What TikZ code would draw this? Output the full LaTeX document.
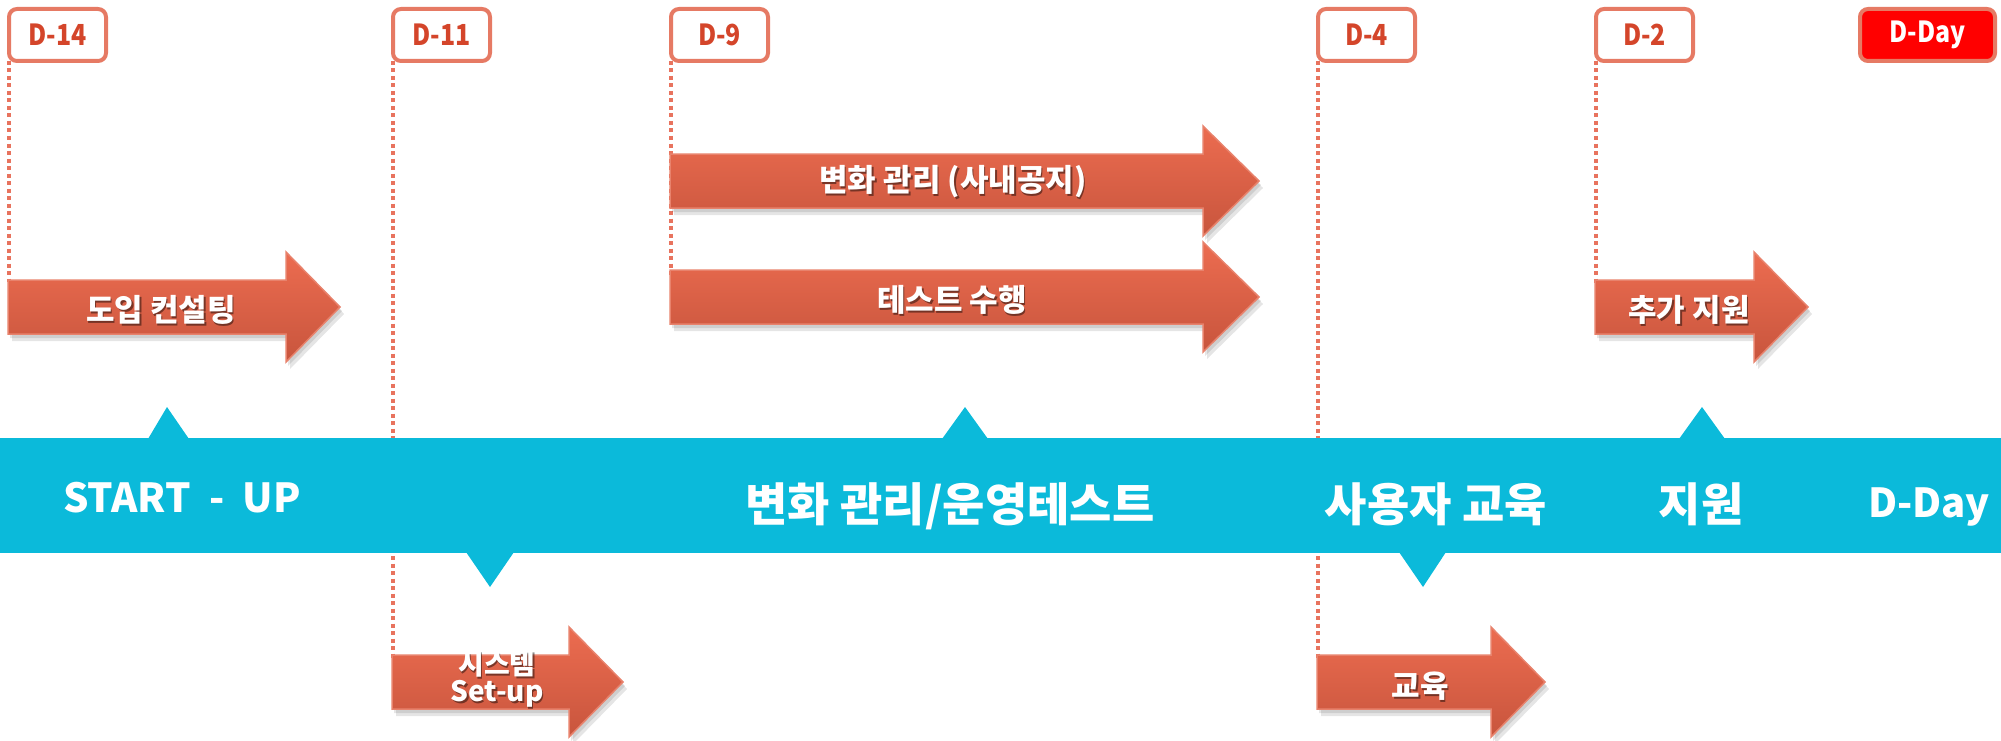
\documentclass[tikz,border=0pt]{standalone}
\usepackage{fontspec}
\usepackage{graphicx}
\setmainfont{Noto Sans CJK KR}
\definecolor{band}{HTML}{0BBADA}
\definecolor{boxline}{HTML}{E67A64}
\definecolor{boxtxt}{HTML}{D4452A}
\definecolor{dday}{HTML}{FF0000}
\definecolor{arrtop}{HTML}{EC6C50}
\definecolor{arrbot}{HTML}{C8553D}
\definecolor{arredge}{HTML}{E8826C}
\definecolor{dots}{HTML}{E8735E}
\tikzset{
  daybox/.style={draw=boxline, line width=4pt, rounded corners=8pt, fill=white,
    minimum width=97pt, minimum height=52pt, inner sep=0pt, outer sep=0pt,
    text=boxtxt, font=\bfseries\fontsize{29}{30}\selectfont},
  dotline/.style={draw=dots, line width=3.5pt, dash pattern=on 4pt off 3.5pt},
  arrowbody/.style={top color=arrtop, bottom color=arrbot, draw=arredge, line width=1.5pt, line join=miter},
  arrowshade/.style={fill=black, opacity=0.10},
  arrtext/.style={text=white, font=\bfseries\fontsize{31}{32}\selectfont, inner sep=0pt},
  arrtextsh/.style={text=black, opacity=0.45, font=\bfseries\fontsize{31}{32}\selectfont, inner sep=0pt},
  systext/.style={text=white, font=\bfseries\fontsize{28}{30}\selectfont, inner sep=0pt, anchor=base},
  systextsh/.style={text=black, opacity=0.45, font=\bfseries\fontsize{28}{30}\selectfont, inner sep=0pt, anchor=base},
  bandtext/.style={text=white, font=\bfseries\fontsize{46}{50}\selectfont, inner sep=0pt, anchor=base},
  bandlatin/.style={text=white, font=\bfseries\fontsize{40}{46}\selectfont, inner sep=0pt, anchor=base},
}
\newcommand\cond[1]{\scalebox{0.86}[1]{#1}}
% #1 x0, #2 head base x, #3 tip x, #4 centre y
\newcommand\orarrow[4]{%
  \fill[arrowshade] ({#1+2},{#4-27+4}) -- ({#2+2},{#4-27+4}) -- ({#2+2},{#4-55+4}) -- ({#3+2},{#4+4}) -- ({#2+2},{#4+55+4}) -- ({#2+2},{#4+27+4}) -- ({#1+2},{#4+27+4}) -- cycle;
  \fill[arrowshade] ({#1+4},{#4-27+7}) -- ({#2+4},{#4-27+7}) -- ({#2+4},{#4-55+7}) -- ({#3+4},{#4+7}) -- ({#2+4},{#4+55+7}) -- ({#2+4},{#4+27+7}) -- ({#1+4},{#4+27+7}) -- cycle;
  \path[arrowbody] (#1,{#4-27}) -- (#2,{#4-27}) -- (#2,{#4-55}) -- (#3,#4) -- (#2,{#4+55}) -- (#2,{#4+27}) -- (#1,{#4+27}) -- cycle;
}
% #1 name, #2 x, #3 y, #4 text
\newcommand\arrlabel[4]{%
  \node[arrtextsh] (#1s) at ({#2+1.5},{#3+2}) {#4};
  \node[arrtext] (#1) at (#2,#3) {#4};
}
\begin{document}
\begin{tikzpicture}[x=1pt,y=-1pt]
\useasboundingbox (0,0) rectangle (2001,741);

\path (57.5,35) coordinate (p14) (441.5,35) coordinate (p11) (719.5,35) coordinate (p9)
      (1366.5,35) coordinate (p4) (1644.5,35) coordinate (p2) (1927.5,35) coordinate (pdd);

% end points of the dotted guide lines
\coordinate (e14) at (9,282);
\coordinate (e11) at (393,660);
\coordinate (e9) at (671,275);
\coordinate (e4) at (1318,660);
\coordinate (e2) at (1596,285);

\draw[dotline] (9,61) -- (e14);
\draw[dotline] (393,61) -- (e11);
\draw[dotline] (671,61) -- (e9);
\draw[dotline] (1318,61) -- (e4);
\draw[dotline] (1596,61) -- (e2);

% teal band with pointers
\fill[band] (0,438) rectangle (2001,553);
\fill[band] (148,439) -- (167,407) -- (189,439) -- cycle;
\fill[band] (942,439) -- (965,407) -- (988,439) -- cycle;
\fill[band] (1679,439) -- (1702,407) -- (1725,439) -- cycle;
\fill[band] (466,552) -- (490,587) -- (514,552) -- cycle;
\fill[band] (1399,552) -- (1423,587) -- (1446,552) -- cycle;

\node[bandlatin] (bStart) at (182,512) {START\ \ -\ \ UP};
\node[bandtext] (bChange) at (950,521) {변화 관리/운영테스트};
\node[bandtext] (bEdu) at (1436,521) {사용자 교육};
\node[bandtext] (bSup) at (1701,521) {지원};
\node[bandlatin] (bDay) at (1929,517) {D-Day};

% arrows
\orarrow{8}{286}{340}{307}
\orarrow{670}{1203}{1259}{181}
\orarrow{670}{1203}{1259}{297}
\orarrow{1595}{1754}{1808}{307}
\orarrow{392}{569}{623}{682}
\orarrow{1317}{1491}{1545}{682}

\arrlabel{tIntro}{161}{310}{도입 컨설팅}
\arrlabel{tChange}{953}{182}{변화 관리 (사내공지)}
\arrlabel{tTest}{952}{300}{테스트 수행}
\arrlabel{tSup}{1689}{310}{추가 지원}
\arrlabel{tEdu}{1420}{686}{교육}
\node[systextsh] (tSysAs) at (498.5,676) {시스템};
\node[systext] (tSysA) at (497,674) {시스템};
\node[systextsh] (tSysBs) at (498.5,703) {Set-up};
\node[systext] (tSysB) at (497,701) {Set-up};

% milestone boxes
\node[daybox] (d14) at (p14) {\cond{D-14}};
\node[daybox] (d11) at (p11) {\cond{D-11}};
\node[daybox] (d9) at (p9) {\cond{D-9}};
\node[daybox] (d4) at (p4) {\cond{D-4}};
\node[daybox] (d2) at (p2) {\cond{D-2}};
\node[daybox, fill=dday, text=white, minimum width=135pt] (dday) at (pdd) {\cond{D-Day}};
\end{tikzpicture}
\end{document}
